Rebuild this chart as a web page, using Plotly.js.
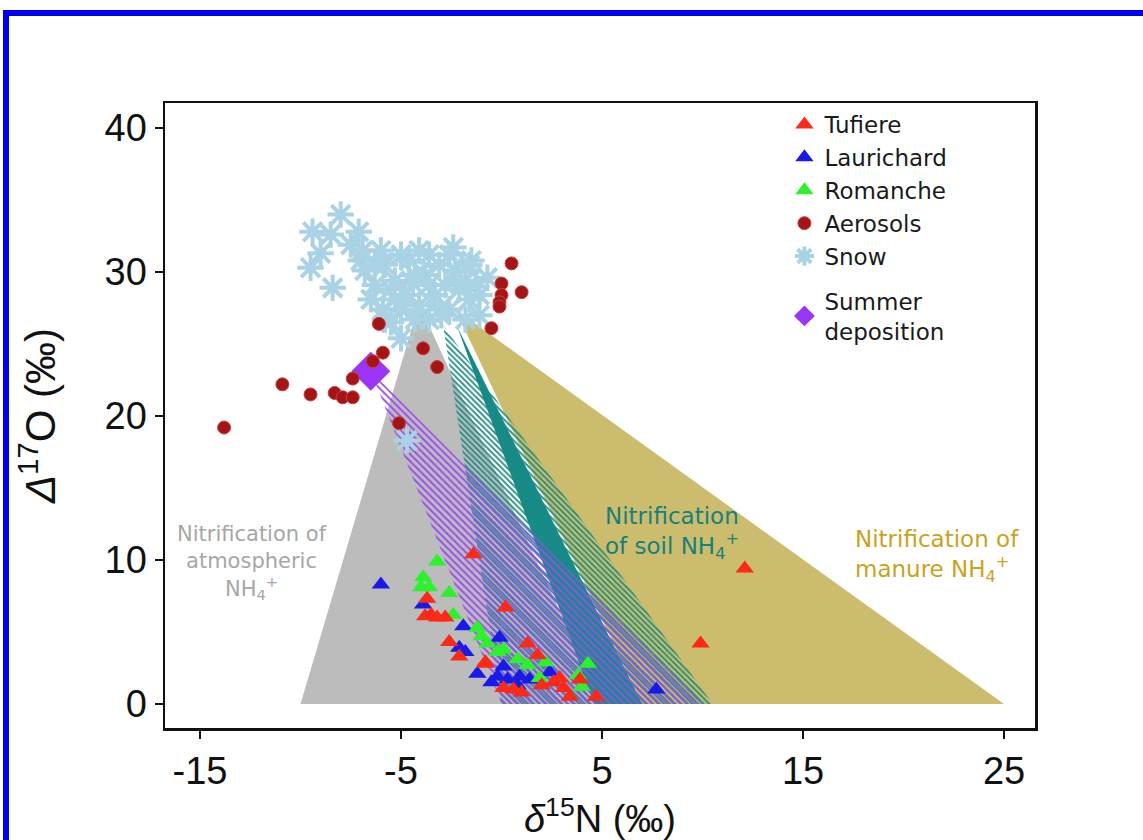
<!DOCTYPE html>
<html>
<head>
<meta charset="utf-8">
<script src="https://cdn.plot.ly/plotly-3.0.1.min.js"></script>
<style>
  html, body { margin: 0; padding: 0; background: #ffffff; }
  #wrap { position: relative; width: 1143px; height: 840px; overflow: hidden; }
  #chart { width: 1143px; height: 840px; }
  #frame { position: absolute; left: 3px; top: 10px; width: 1200px; height: 900px;
           border-left: 6px solid #0000ee; border-top: 6px solid #0000ee; pointer-events: none; }
</style>
</head>
<body>
<div id="wrap">
  <div id="chart"></div>
  <div id="frame"></div>
</div>
<script>
// ---- Source-region polygons (δ15N, Δ17O) ----
const atmosX = [-10, -4.1, 5];
const atmosY = [0, 27.8, 0];
const manureX = [-2.3, 7, 25];
const manureY = [27.4, 0, 0];
const soilHatchX = [-2.9, 0, 10.5];
const soilHatchY = [26.3, 0, 0];
const soilCoreX = [-2.2, 4.6, 7.0];
const soilCoreY = [26.2, 0, 0];
const mixHatchX = [-6.5, 0, 10];
const mixHatchY = [23.1, 0, 0];

// ---- Observations ----
const snowX = [-8.0, -9.4, -8.5, -7.1, -9.0, -9.5, -8.4, -6.9, -2.4, -0.7, -1.5, -5.0, -5.5, -5.9, -4.7,
               -6.8, -6.3, -6.5, -5.8, -5.3, -4.8, -5.3, -4.6, -4.1, -3.6, -3.8, -3.1, -2.8, -3.3, -2.3,
               -2.1, -1.6, -4.1, -2.6, -1.8, -1.1, -4.3, -5.5, -6.0, -3.0, -4.4, -1.3,
               -6.3, -5.0, -4.3, -3.6, -2.6, -1.8, -1.1, -3.1, -5.0, -5.8, -3.6, -1.6, -7.0, -7.5];
const snowY = [34.0, 32.8, 32.6, 32.8, 31.3, 30.3, 28.9, 31.5, 31.7, 29.6, 30.8, 25.4, 26.5, 27.4, 18.3,
               30.1, 29.1, 28.1, 30.5, 29.4, 28.4, 28.1, 30.8, 31.5, 31.2, 29.8, 30.5, 29.1, 28.4, 30.1,
               28.8, 28.1, 27.7, 27.4, 26.7, 27.0, 26.7, 28.8, 31.5, 27.0, 29.2, 29.0,
               30.5, 31.2, 29.8, 29.1, 31.2, 29.4, 28.4, 27.4, 27.4, 26.7, 26.7, 30.5, 30.8, 31.9];

const aeroX = [-13.8, -10.9, -9.5, -8.3, -7.9, -7.4, -7.4, -6.4, -5.9, -6.1, -5.1, -3.9, -3.2,
               -0.5, 0.5, 0.0, 0.0, -0.1, -0.1, 1.0];
const aeroY = [19.2, 22.2, 21.5, 21.6, 21.3, 21.3, 22.6, 23.8, 24.4, 26.4, 19.5, 24.7, 23.4,
               26.1, 30.6, 29.2, 28.4, 27.9, 27.6, 28.6];

const summerX = [-6.5];
const summerY = [23.1];

const tufX = [-1.4, -3.7, -3.5, -3.8, -3.2, -2.8, -2.6, -2.1, -0.8, 0.2, -0.8, 1.3, 1.8, 2.9, 3.1,
              3.4, 2.6, 3.9, 4.7, 0.1, 0.6, 1.0, 2.0, 12.1, 9.9];
const tufY = [10.4, 7.3, 6.2, 6.1, 6.0, 6.0, 4.3, 3.3, 2.8, 6.7, 2.9, 4.2, 3.4, 1.8, 1.1,
              0.5, 1.5, 1.7, 0.5, 1.1, 1.0, 0.8, 1.3, 9.4, 4.2];

const lauX = [-6.0, -3.9, -1.9, -2.1, -1.8, -1.2, -0.5, -0.1, 0.1, 0.3, 0.8, 0.9, 1.4, 2.4, -0.2, 7.7];
const lauY = [8.3, 6.9, 5.4, 3.9, 3.6, 2.1, 1.5, 4.6, 2.6, 1.7, 1.3, 1.9, 1.7, 2.2, 1.9, 1.0];

const romX = [-3.2, -3.9, -3.6, -4.0, -2.6, -2.4, -1.2, -1.0, -0.7, 0.1, 0.8, 1.3, 2.2, 1.9, 3.8, 4.3, 4.0, -0.2];
const romY = [9.9, 8.8, 8.1, 8.1, 7.7, 6.2, 5.3, 4.7, 4.2, 3.8, 3.1, 2.7, 2.9, 1.8, 2.0, 2.8, 1.2, 3.6];

const xTicks = [-15, -5, 5, 15, 25];
const yTicks = [0, 10, 20, 30, 40];

const FONT = 'Liberation Sans, Arial, Helvetica, sans-serif';
const WIDE = 'DejaVu Sans, Liberation Sans, sans-serif';

function poly(x, y, opts) {
  return Object.assign({
    type: 'scatter', mode: 'lines', x: x, y: y, fill: 'toself',
    line: { width: 0, color: 'rgba(0,0,0,0)' }, hoverinfo: 'skip', showlegend: false
  }, opts);
}

const traces = [
  poly(atmosX, atmosY, { fillcolor: '#bcbcbc' }),
  poly(manureX, manureY, { fillcolor: '#cbbd6d' }),
  poly(soilCoreX, soilCoreY, { fillcolor: '#138a8a' }),
  poly(soilHatchX, soilHatchY, {
    fillcolor: 'rgba(0,0,0,0)',
    fillpattern: { shape: '\\', fgcolor: '#1c8b80', bgcolor: 'rgba(0,0,0,0)', size: 4, solidity: 0.45 }
  }),
  poly(mixHatchX, mixHatchY, {
    fillcolor: 'rgba(0,0,0,0)',
    fillpattern: { shape: '\\', fgcolor: '#9a4cf0', bgcolor: 'rgba(0,0,0,0)', size: 5, solidity: 0.38 }
  }),
  {
    type: 'scatter', mode: 'markers', name: 'Snow', x: snowX, y: snowY, legendrank: 5, legendgroup: 'a',
    marker: { symbol: 'asterisk-open', size: 22, color: '#a9d3e4', line: { width: 4, color: '#a9d3e4' } }
  },
  {
    type: 'scatter', mode: 'markers', name: 'Summer<br>deposition', x: summerX, y: summerY, legendrank: 6, legendgroup: 'b',
    marker: { symbol: 'diamond', size: 30, color: '#9b35f5', line: { width: 0 } }
  },
  {
    type: 'scatter', mode: 'markers', name: 'Aerosols', x: aeroX, y: aeroY, legendrank: 4, legendgroup: 'a',
    marker: { symbol: 'circle', size: 13, color: '#a41515', line: { width: 1, color: '#c84040' } }
  },
  {
    type: 'scatter', mode: 'markers', name: 'Laurichard', x: lauX, y: lauY, legendrank: 2, legendgroup: 'a',
    marker: { symbol: 'triangle-up', size: 16, color: '#1a1ae8', line: { width: 0 } }
  },
  {
    type: 'scatter', mode: 'markers', name: 'Romanche', x: romX, y: romY, legendrank: 3, legendgroup: 'a',
    marker: { symbol: 'triangle-up', size: 16, color: '#2ef02e', line: { width: 0 } }
  },
  {
    type: 'scatter', mode: 'markers', name: 'Tufiere', x: tufX, y: tufY, legendrank: 1, legendgroup: 'a',
    marker: { symbol: 'triangle-up', size: 16, color: '#fb2a17', line: { width: 0 } }
  }
];

const layout = {
  width: 1143, height: 840,
  margin: { l: 165, r: 108, t: 103, b: 112 },
  paper_bgcolor: '#ffffff', plot_bgcolor: '#ffffff',
  font: { family: FONT, color: '#111111' },
  showlegend: true,
  legend: {
    x: 0.712, y: 1.0, xanchor: 'left', yanchor: 'top',
    font: { family: WIDE, size: 23, color: '#1a1a1a' },
    bgcolor: 'rgba(255,255,255,0)', borderwidth: 0,
    traceorder: 'grouped', tracegroupgap: 12, itemwidth: 30
  },
  xaxis: {
    range: [-16.74, 26.54], tickvals: xTicks, ticktext: xTicks.map(String),
    showgrid: false, zeroline: false, showline: true, mirror: true,
    linecolor: '#111111', linewidth: 2.5,
    ticks: 'outside', ticklen: 8, tickwidth: 1.5, tickcolor: '#111111',
    tickfont: { family: FONT, size: 38, color: '#111111' },
    title: { text: '<i>δ</i><sup>15</sup>N (‰)', font: { family: FONT, size: 38, color: '#111111' }, standoff: 0 }
  },
  yaxis: {
    range: [-1.67, 41.74], tickvals: yTicks, ticktext: yTicks.map(String),
    showgrid: false, zeroline: false, showline: true, mirror: true,
    linecolor: '#111111', linewidth: 2.5,
    ticks: 'outside', ticklen: 8, tickwidth: 1.5, tickcolor: '#111111',
    tickfont: { family: FONT, size: 38, color: '#111111' },
    title: { text: '<i>Δ</i><sup>17</sup>O (‰)', font: { family: FONT, size: 42, color: '#111111' }, standoff: 36 }
  },
  annotations: [
    { x: -12.4, y: 9.8, xref: 'x', yref: 'y', showarrow: false, align: 'center',
      text: 'Nitrification of<br>atmospheric<br>NH<sub>4</sub><sup>+</sup>',
      font: { family: WIDE, size: 21, color: '#a6a6a6' } },
    { x: 5.05, y: 11.9, xref: 'x', yref: 'y', xanchor: 'left', showarrow: false, align: 'left',
      text: 'Nitrification<br>of soil NH<sub>4</sub><sup>+</sup>',
      font: { family: WIDE, size: 23, color: '#17807a' } },
    { x: 17.5, y: 10.3, xref: 'x', yref: 'y', xanchor: 'left', showarrow: false, align: 'left',
      text: 'Nitrification of<br>manure NH<sub>4</sub><sup>+</sup>',
      font: { family: WIDE, size: 23, color: '#c9a21e' } }
  ]
};

Plotly.newPlot('chart', traces, layout, { displayModeBar: false, staticPlot: true });
</script>
</body>
</html>
